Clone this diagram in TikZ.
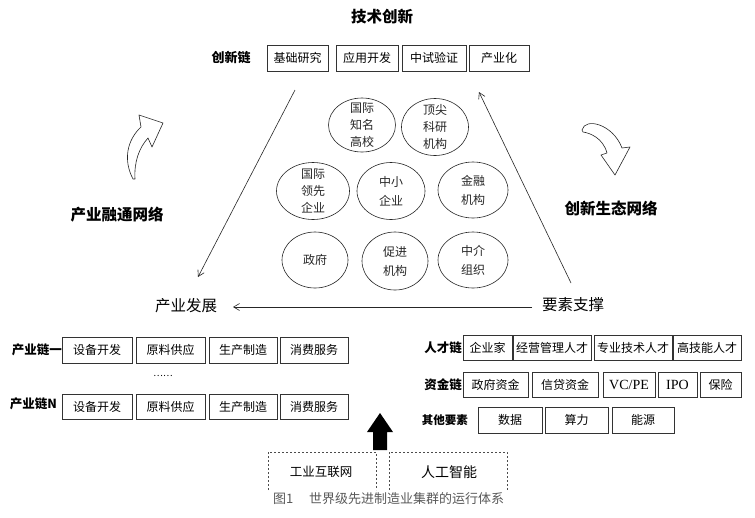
\documentclass[tikz,border=0pt]{standalone}
\usepackage{fontspec}
\setmainfont{Noto Sans CJK SC}
\newfontfamily\tnr{Liberation Serif}
\usetikzlibrary{arrows.meta,shapes.geometric}
\newcommand{\fs}[1]{\fontsize{#1}{#1}\selectfont}
\tikzset{
  x=1pt,y=-1pt,
  line/.style={line width=0.6pt,draw=black!85},
  arr/.style={line, -{Straight Barb[length=6pt,width=7pt]}},
  box/.style={draw=black!80,line width=0.6pt,inner sep=0pt,font=\fs{12}},
  ell/.style={ellipse,draw=black!85,line width=0.6pt,inner sep=0pt},
  etext/.style={align=center,inner sep=0pt,font=\fs{12},text=black!85},
  big/.style={font=\fs{15.5}},
  bigb/.style={font=\fs{15.5}\bfseries},
  lab/.style={font=\fs{12.5}\bfseries,inner sep=0pt},
  dbox/.style={line width=0.5pt,draw=black!70,dash pattern=on 2pt off 2pt},
  curved/.style={draw=black!85,line width=0.6pt,fill=white,line join=round}
}
\begin{document}
\begin{tikzpicture}
\useasboundingbox[fill=white] (0,0) rectangle (755,517);

% titles
\node[bigb] (title) at (382,17) {技术创新};
\node[font=\fs{13}\bfseries,inner sep=0pt] (cxl) at (231,58) {创新链};
\node[box,minimum width=61pt,minimum height=26pt] (c1) at (297.5,58) {基础研究};
\node[box,minimum width=62pt,minimum height=26pt] (c2) at (367,58) {应用开发};
\node[box,minimum width=64pt,minimum height=26pt] (c3) at (434,58) {中试验证};
\node[box,minimum width=60pt,minimum height=26pt] (c4) at (499,58) {产业化};

% ellipses
\node[ell,minimum width=67pt,minimum height=54pt] (e1) at (362,125) {};
\node[etext] at (e1) {国际\\[5pt]知名\\[5pt]高校};
\node[ell,minimum width=67pt,minimum height=57pt] (e2) at (435,127) {};
\node[etext] at (e2) {顶尖\\[5pt]科研\\[5pt]机构};
\node[ell,minimum width=73pt,minimum height=57pt] (e3) at (313,191) {};
\node[etext] at (e3) {国际\\[5pt]领先\\[5pt]企业};
\node[ell,minimum width=68pt,minimum height=57pt] (e4) at (391,191) {};
\node[etext] at (e4) {中小\\[7pt]企业};
\node[ell,minimum width=70pt,minimum height=56pt] (e5) at (473,190) {};
\node[etext] at (e5) {金融\\[7pt]机构};
\node[ell,minimum width=66pt,minimum height=56pt] (e6) at (315,260) {};
\node[etext] at (e6) {政府};
\node[ell,minimum width=66pt,minimum height=58pt] (e7) at (395,261) {};
\node[etext] at (e7) {促进\\[7pt]机构};
\node[ell,minimum width=70pt,minimum height=56pt] (e8) at (473,260) {};
\node[etext] at (e8) {中介\\[7pt]组织};

% main nodes
\node[big,inner sep=0pt] (cyfz) at (186,306) {产业发展};
\node[big,inner sep=0pt] (yszc) at (573,305) {要素支撑};
\node[bigb,inner sep=0pt] (rt) at (117,215) {产业融通网络};
\node[bigb,inner sep=0pt] (st) at (611,208) {创新生态网络};

% connectors
\coordinate (la) at (295,90);
\coordinate (lb) at (198,277);
\coordinate (ra) at (571,283);
\coordinate (rb) at (479,92);
\coordinate (ha) at (532,307);
\coordinate (hb) at (233,307);
\draw[arr] (la) -- (lb);
\draw[arr] (ra) -- (rb);
\draw[arr] (ha) -- (hb);

% curved block arrows
\draw[curved] (133,179) .. controls (123,160) and (127,140) .. (141,127) -- (139,115) -- (163,123) -- (152,147) -- (148,138)
  .. controls (139,148) and (134,162) .. (135,179) -- cycle;
\draw[curved] (582,130) .. controls (585,117) and (613,124) .. (622,148) -- (630,147) -- (615,175) -- (601,155) -- (607,153)
  .. controls (603,138) and (590,133) .. (583,132) -- cycle;

% industry chains
\node[lab,anchor=east] (l1) at (62,350) {产业链一};
\node[box,minimum width=70pt,minimum height=26pt] (a1) at (97,350) {设备开发};
\node[box,minimum width=69pt,minimum height=26pt] (a2) at (170.5,350) {原料供应};
\node[box,minimum width=68pt,minimum height=26pt] (a3) at (243,350) {生产制造};
\node[box,minimum width=68pt,minimum height=26pt] (a4) at (314,350) {消费服务};
\node[font=\fs{9},inner sep=0pt] (dots) at (163,376) {……};
\node[lab,anchor=east] (l2) at (57,404) {产业链N};
\node[box,minimum width=70pt,minimum height=25pt] (b1) at (97,406.5) {设备开发};
\node[box,minimum width=69pt,minimum height=25pt] (b2) at (170.5,406.5) {原料供应};
\node[box,minimum width=68pt,minimum height=25pt] (b3) at (243,406.5) {生产制造};
\node[box,minimum width=68pt,minimum height=25pt] (b4) at (314,406.5) {消费服务};

% element chains
\node[lab,anchor=east] (r1) at (462,348) {人才链};
\node[box,minimum width=49pt,minimum height=25pt] (p1) at (487.5,347.5) {企业家};
\node[box,minimum width=78pt,minimum height=25pt] (p2) at (552,347.5) {经营管理人才};
\node[box,minimum width=78pt,minimum height=25pt] (p3) at (633,347.5) {专业技术人才};
\node[box,minimum width=68pt,minimum height=25pt] (p4) at (707,347.5) {高技能人才};
\node[lab,anchor=east] (r2) at (462,385) {资金链};
\node[box,minimum width=65pt,minimum height=25pt] (f1) at (495.5,384.5) {政府资金};
\node[box,minimum width=66pt,minimum height=25pt] (f2) at (565,384.5) {信贷资金};
\node[box,minimum width=52pt,minimum height=25pt,font=\fs{14}\tnr] (f3) at (629,384.5) {VC/PE};
\node[box,minimum width=39pt,minimum height=25pt,font=\fs{14}\tnr] (f4) at (677.5,384.5) {IPO};
\node[box,minimum width=41pt,minimum height=25pt] (f5) at (720.5,384.5) {保险};
\node[font=\fs{11.5}\bfseries,inner sep=0pt,anchor=east] (r3) at (468,420) {其他要素};
\node[box,minimum width=64pt,minimum height=26pt] (o1) at (510,420) {数据};
\node[box,minimum width=63pt,minimum height=26pt] (o2) at (576.5,420) {算力};
\node[box,minimum width=62pt,minimum height=26pt] (o3) at (643,420) {能源};

% black arrow
\fill[black] (373,450) -- (373,432) -- (367,432) -- (380,413) -- (393,432) -- (387,432) -- (387,450) -- cycle;

% dashed boxes
\draw[dbox] (268,490) -- (268,452) -- (376,452) -- (376,490);
\draw[dbox] (389,490) -- (389,452) -- (507,452) -- (507,490);
\node[font=\fs{12.5},inner sep=0pt] (gy) at (321,472) {工业互联网};
\node[font=\fs{14},inner sep=0pt] (ai) at (449,472) {人工智能};

% caption
\node[font=\fs{13},text=black!65,inner sep=0pt,anchor=west] (cap) at (273,499) {图1\hspace{1.2em}世界级先进制造业集群的运行体系};
\end{tikzpicture}
\end{document}
